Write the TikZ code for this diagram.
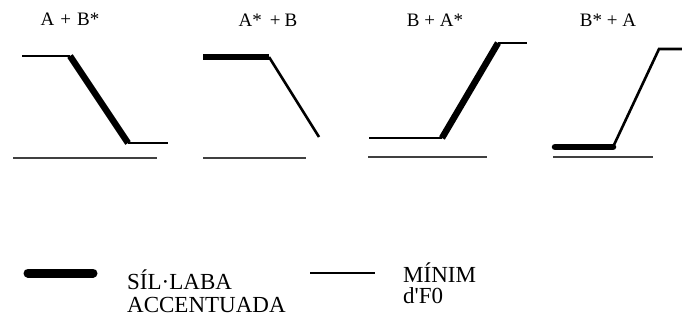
\documentclass[tikz,border=0pt]{standalone}
\usepackage{fontspec}
\setmainfont{Liberation Serif}
\begin{document}
\begin{tikzpicture}[x=1pt,y=-1pt,
  thinl/.style={line width=2.6pt,line join=miter},
  thickl/.style={line width=6.5pt,line join=round},
  basel/.style={line width=1.5pt,draw=black!75},
  lbl/.style={inner sep=0pt,font=\fontsize{19}{22}\selectfont},
  leg/.style={inner sep=0pt,anchor=west,font=\fontsize{23}{25}\selectfont}]
\useasboundingbox (0,0) rectangle (682,321);
% panel 1: A + B*
\node[lbl] (t1) at (70,19) {A\hspace{6pt}+\hspace{6pt}B*};
\coordinate (p1a) at (22,56);
\coordinate (p1b) at (70,56);
\coordinate (p1c) at (128,143);
\coordinate (p1d) at (168,143);
\coordinate (b1a) at (13,158);
\coordinate (b1b) at (157,158);
\draw[thinl] (p1a) -- (p1b);
\draw[thickl] (p1b) -- (p1c);
\draw[thinl] (p1c) -- (p1d);
\draw[basel] (b1a) -- (b1b);
% panel 2: A* + B
\node[lbl] (t2) at (268,20) {A*\hspace{8pt}+\hspace{4pt}B};
\coordinate (p2a) at (203,57);
\coordinate (p2b) at (269,57);
\coordinate (p2c) at (319,137);
\coordinate (b2a) at (203,158);
\coordinate (b2b) at (306,158);
\draw[thickl] (p2a) -- (p2b);
\draw[thinl] (p2b) -- (p2c);
\draw[basel] (b2a) -- (b2b);
% panel 3: B + A*
\node[lbl] (t3) at (435,20) {B + A*};
\coordinate (p3a) at (369,138);
\coordinate (p3b) at (442,138);
\coordinate (p3c) at (498,43);
\coordinate (p3d) at (527,43);
\coordinate (b3a) at (368,157);
\coordinate (b3b) at (487,157);
\draw[thinl] (p3a) -- (p3b);
\draw[thickl] (p3b) -- (p3c);
\draw[thinl] (p3c) -- (p3d);
\draw[basel] (b3a) -- (b3b);
% panel 4: B* + A
\node[lbl] (t4) at (608,20) {B* + A};
\coordinate (p4a) at (555,147);
\coordinate (p4b) at (613,147);
\coordinate (p4c) at (659,49);
\coordinate (p4d) at (682,49);
\coordinate (b4a) at (553,157);
\coordinate (b4b) at (653,157);
\draw[thickl,line cap=round] (p4a) -- (p4b);
\draw[thinl] (p4b) -- (p4c) -- (p4d);
\draw[basel] (b4a) -- (b4b);
% legend
\coordinate (l1a) at (28,273);
\coordinate (l1b) at (93,273);
\draw[line width=9pt,line cap=round] (l1a) -- (l1b);
\node[leg] (s1) at (127,280) {SÍL·LABA};
\node[leg] (s2) at (127,305) {ACCENTUADA};
\coordinate (l2a) at (310,273);
\coordinate (l2b) at (375,273);
\draw[line width=1.5pt] (l2a) -- (l2b);
\node[leg] (m1) at (403,273) {MÍNIM};
\node[leg] (m2) at (403,296) {d\textquotesingle F0};
\end{tikzpicture}
\end{document}
